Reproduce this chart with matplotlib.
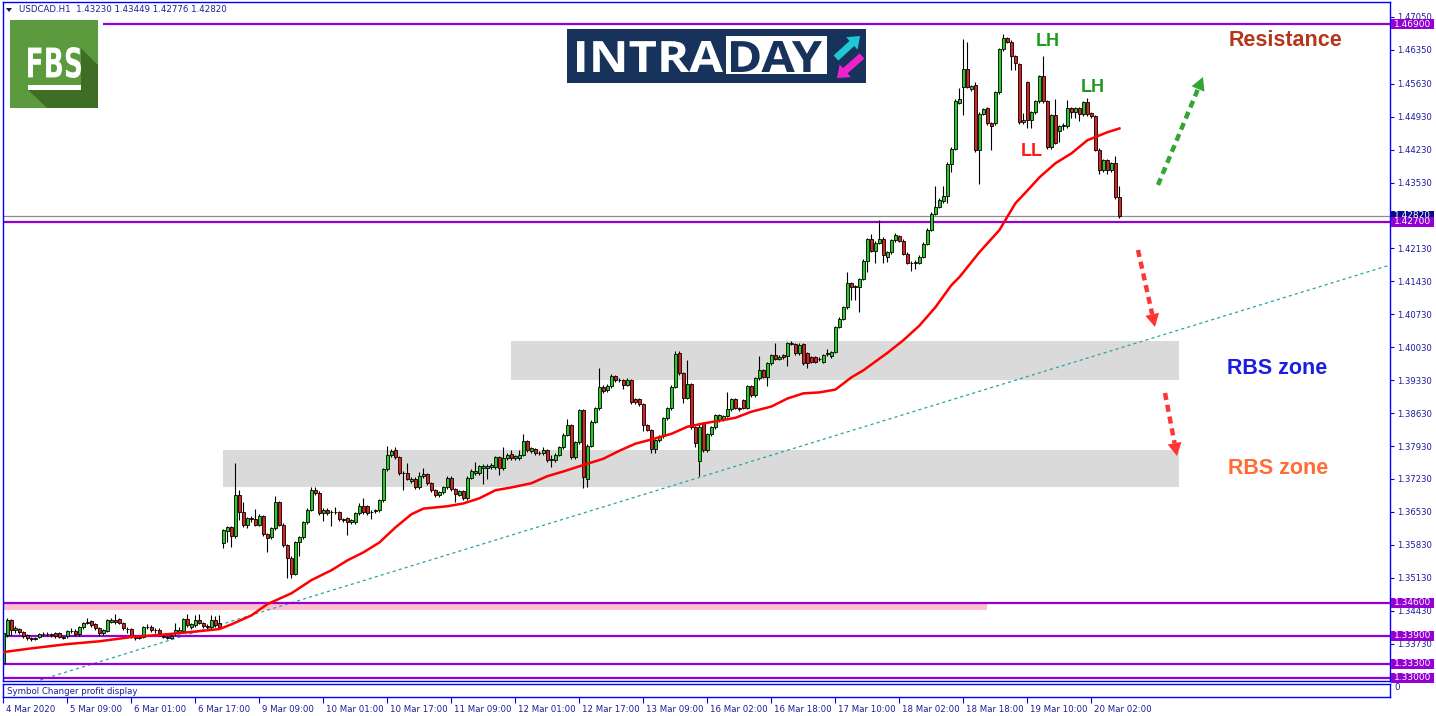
import numpy as np
import matplotlib
matplotlib.use("Agg")
import matplotlib.pyplot as plt
import matplotlib.transforms as mtransforms
from matplotlib.patches import Rectangle, Polygon, PathPatch, FancyArrow
from matplotlib.textpath import TextPath
from matplotlib.font_manager import FontProperties

# USDCAD H1 candles, prices in 1/10000 (13395 -> 1.3395)
opens = [
    13331, 13391, 13423, 13403, 13404, 13397, 13391, 13385, 13383, 13387,
    13393, 13394, 13393, 13395, 13395, 13387, 13389, 13399, 13399, 13393,
    13408, 13417, 13421, 13414, 13406, 13395, 13399, 13420, 13424, 13425,
    13417, 13405, 13405, 13388, 13386, 13387, 13408, 13409, 13402, 13403,
    13389, 13387, 13386, 13395, 13397, 13399, 13425, 13408, 13412, 13423,
    13417, 13410, 13408, 13423, 13416, 13586, 13612, 13620, 13601, 13690,
    13652, 13626, 13639, 13637, 13626, 13644, 13605, 13599, 13618, 13673,
    13626, 13582, 13556, 13522, 13588, 13599, 13631, 13658, 13699, 13694,
    13650, 13658, 13652, 13653, 13652, 13637, 13639, 13631, 13631, 13650,
    13665, 13665, 13652, 13654, 13656, 13678, 13744, 13773, 13784, 13769,
    13735, 13735, 13718, 13724, 13705, 13729, 13733, 13714, 13699, 13688,
    13695, 13705, 13726, 13701, 13690, 13697, 13682, 13726, 13735, 13735,
    13746, 13746, 13748, 13748, 13769, 13746, 13767, 13777, 13767, 13767,
    13775, 13803, 13782, 13786, 13778, 13778, 13784, 13764, 13763, 13775,
    13790, 13817, 13837, 13769, 13801, 13869, 13722, 13794, 13845, 13873,
    13919, 13912, 13920, 13942, 13934, 13933, 13923, 13933, 13892, 13892,
    13882, 13837, 13827, 13786, 13805, 13814, 13852, 13873, 13919, 13991,
    13948, 13895, 13925, 13833, 13762, 13842, 13784, 13818, 13833, 13848,
    13850, 13857, 13871, 13893, 13874, 13891, 13874, 13920, 13901, 13937,
    13954, 13940, 13969, 13986, 13978, 13986, 13984, 14010, 14010, 13990,
    14010, 13990, 13982, 13982, 13979, 13972, 13988, 13984, 13993, 14046,
    14064, 14088, 14139, 14133, 14132, 14148, 14187, 14232, 14208, 14225,
    14234, 14194, 14205, 14230, 14239, 14229, 14202, 14183, 14182, 14183,
    14195, 14223, 14253, 14287, 14302, 14313, 14325, 14393, 14425, 14523,
    14557, 14594, 14551, 14560, 14423, 14499, 14511, 14479, 14479, 14545,
    14636, 14660, 14652, 14622, 14604, 14481, 14566, 14485, 14502, 14526,
    14579, 14526, 14428, 14496, 14462, 14473, 14473, 14511, 14503, 14511,
    14498, 14524, 14500, 14494, 14423, 14379, 14401, 14379, 14394, 14323,
]
closes = [
    13395, 13423, 13401, 13406, 13397, 13389, 13384, 13383, 13385, 13393,
    13394, 13393, 13391, 13389, 13387, 13386, 13399, 13400, 13393, 13408,
    13417, 13420, 13412, 13406, 13395, 13401, 13423, 13424, 13418, 13417,
    13406, 13404, 13389, 13386, 13387, 13408, 13409, 13401, 13403, 13395,
    13387, 13386, 13389, 13401, 13403, 13425, 13412, 13414, 13423, 13417,
    13410, 13409, 13423, 13412, 13409, 13614, 13620, 13601, 13690, 13652,
    13626, 13639, 13637, 13626, 13644, 13605, 13598, 13618, 13673, 13626,
    13582, 13556, 13522, 13588, 13599, 13631, 13658, 13699, 13694, 13650,
    13658, 13650, 13653, 13652, 13637, 13636, 13631, 13635, 13650, 13665,
    13652, 13650, 13653, 13656, 13678, 13744, 13773, 13782, 13769, 13735,
    13735, 13724, 13724, 13705, 13729, 13733, 13714, 13699, 13688, 13695,
    13705, 13726, 13701, 13692, 13697, 13682, 13726, 13741, 13741, 13750,
    13750, 13750, 13752, 13769, 13746, 13767, 13775, 13767, 13771, 13775,
    13803, 13784, 13789, 13778, 13779, 13784, 13763, 13765, 13775, 13790,
    13817, 13837, 13769, 13801, 13869, 13727, 13794, 13845, 13873, 13919,
    13910, 13920, 13942, 13933, 13933, 13923, 13933, 13886, 13886, 13882,
    13837, 13827, 13786, 13805, 13814, 13852, 13873, 13919, 13989, 13948,
    13895, 13925, 13833, 13799, 13833, 13784, 13818, 13833, 13859, 13859,
    13857, 13871, 13893, 13874, 13871, 13874, 13920, 13901, 13937, 13954,
    13940, 13969, 13986, 13978, 13982, 13982, 14012, 14012, 13990, 14008,
    13969, 13969, 13972, 13972, 13978, 13986, 13990, 13993, 14046, 14064,
    14088, 14139, 14130, 14132, 14148, 14187, 14232, 14208, 14225, 14234,
    14199, 14205, 14231, 14242, 14229, 14202, 14183, 14182, 14184, 14195,
    14223, 14253, 14287, 14302, 14317, 14325, 14393, 14425, 14527, 14530,
    14594, 14557, 14558, 14423, 14499, 14509, 14479, 14473, 14545, 14636,
    14660, 14652, 14622, 14607, 14481, 14487, 14485, 14502, 14526, 14579,
    14526, 14428, 14496, 14438, 14473, 14475, 14511, 14503, 14511, 14498,
    14524, 14498, 14494, 14423, 14379, 14401, 14379, 14394, 14322, 14282,
]
highs = [
    13398, 13428, 13425, 13410, 13407, 13399, 13393, 13388, 13388, 13396,
    13398, 13398, 13396, 13398, 13398, 13390, 13402, 13406, 13405, 13411,
    13420, 13427, 13424, 13416, 13408, 13404, 13426, 13428, 13435, 13428,
    13420, 13408, 13407, 13391, 13390, 13411, 13414, 13412, 13406, 13406,
    13392, 13390, 13393, 13416, 13408, 13428, 13435, 13417, 13433, 13435,
    13420, 13414, 13433, 13432, 13433, 13617, 13624, 13624, 13756, 13699,
    13673, 13642, 13644, 13660, 13648, 13647, 13608, 13621, 13686, 13676,
    13629, 13585, 13559, 13591, 13602, 13634, 13661, 13705, 13705, 13697,
    13661, 13661, 13657, 13664, 13655, 13640, 13642, 13638, 13653, 13671,
    13683, 13668, 13658, 13660, 13681, 13747, 13793, 13786, 13790, 13772,
    13739, 13756, 13727, 13727, 13738, 13746, 13736, 13717, 13702, 13698,
    13708, 13729, 13729, 13704, 13700, 13700, 13729, 13744, 13759, 13753,
    13754, 13754, 13756, 13772, 13772, 13792, 13778, 13784, 13775, 13784,
    13818, 13806, 13792, 13789, 13783, 13792, 13787, 13775, 13778, 13793,
    13820, 13850, 13840, 13804, 13872, 13872, 13797, 13848, 13876, 13959,
    13922, 13924, 13946, 13945, 13937, 13936, 13937, 13936, 13895, 13895,
    13885, 13840, 13830, 13808, 13817, 13855, 13876, 13922, 13994, 13994,
    13951, 13976, 13928, 13836, 13842, 13845, 13821, 13836, 13862, 13862,
    13860, 13907, 13896, 13896, 13877, 13894, 13923, 13923, 13940, 13984,
    13957, 13972, 13989, 14013, 13986, 13989, 14015, 14016, 14013, 14013,
    14013, 13993, 13985, 13985, 13982, 13989, 14000, 13996, 14049, 14067,
    14091, 14162, 14142, 14136, 14151, 14190, 14235, 14243, 14228, 14274,
    14237, 14208, 14234, 14245, 14242, 14232, 14205, 14186, 14188, 14198,
    14226, 14256, 14290, 14345, 14320, 14345, 14396, 14428, 14530, 14555,
    14658, 14652, 14561, 14566, 14502, 14512, 14514, 14482, 14548, 14639,
    14668, 14663, 14655, 14625, 14607, 14500, 14569, 14505, 14529, 14582,
    14622, 14529, 14499, 14530, 14476, 14480, 14528, 14514, 14514, 14514,
    14527, 14532, 14503, 14497, 14426, 14404, 14404, 14397, 14410, 14345,
]
lows = [
    13325, 13388, 13392, 13396, 13394, 13386, 13381, 13379, 13380, 13384,
    13390, 13389, 13387, 13386, 13384, 13382, 13386, 13396, 13390, 13390,
    13405, 13414, 13409, 13403, 13390, 13392, 13397, 13417, 13415, 13414,
    13403, 13396, 13386, 13381, 13383, 13384, 13405, 13398, 13396, 13392,
    13384, 13383, 13383, 13392, 13394, 13396, 13409, 13405, 13409, 13414,
    13407, 13405, 13405, 13409, 13406, 13577, 13588, 13579, 13598, 13635,
    13620, 13618, 13631, 13622, 13622, 13601, 13567, 13595, 13615, 13622,
    13578, 13513, 13513, 13519, 13560, 13596, 13628, 13655, 13690, 13646,
    13634, 13646, 13622, 13648, 13633, 13632, 13603, 13628, 13628, 13647,
    13649, 13646, 13637, 13651, 13653, 13675, 13741, 13770, 13766, 13731,
    13699, 13721, 13715, 13702, 13702, 13726, 13711, 13696, 13685, 13685,
    13692, 13702, 13698, 13675, 13687, 13679, 13679, 13723, 13732, 13732,
    13712, 13722, 13745, 13745, 13731, 13743, 13764, 13764, 13764, 13764,
    13772, 13781, 13779, 13775, 13775, 13775, 13760, 13748, 13760, 13772,
    13787, 13814, 13765, 13765, 13798, 13703, 13707, 13791, 13842, 13870,
    13906, 13908, 13917, 13930, 13929, 13915, 13920, 13882, 13883, 13879,
    13826, 13824, 13778, 13778, 13802, 13811, 13849, 13870, 13916, 13945,
    13885, 13892, 13830, 13792, 13729, 13781, 13781, 13815, 13830, 13845,
    13847, 13854, 13868, 13871, 13868, 13871, 13871, 13898, 13898, 13934,
    13937, 13920, 13966, 13975, 13975, 13979, 13963, 14007, 13987, 13987,
    13966, 13958, 13969, 13969, 13974, 13969, 13985, 13981, 13990, 14043,
    14061, 14085, 14104, 14104, 14078, 14145, 14162, 14205, 14183, 14222,
    14183, 14185, 14202, 14227, 14226, 14199, 14180, 14165, 14170, 14180,
    14192, 14220, 14250, 14284, 14299, 14310, 14310, 14376, 14422, 14520,
    14497, 14554, 14548, 14418, 14349, 14496, 14476, 14422, 14476, 14542,
    14633, 14649, 14593, 14593, 14478, 14478, 14470, 14470, 14499, 14523,
    14523, 14425, 14425, 14435, 14440, 14465, 14470, 14490, 14490, 14483,
    14495, 14495, 14491, 14420, 14372, 14376, 14372, 14376, 14319, 14278,
]

# red moving average, read at some bars
ma_idx = [0, 7, 16, 24, 32, 41, 46, 54, 57, 62, 66, 72, 77, 82, 86, 90, 94, 98, 102, 105,
          111, 115, 119, 123, 127, 132, 136, 140, 144, 150, 154, 158, 162, 167, 171, 175,
          179, 183, 187, 192, 196, 200, 204, 208, 212, 215, 221, 225, 229, 233, 237, 239,
          244, 249, 253, 256, 259, 263, 267, 271, 276, 279]
ma_val = [13355, 13363, 13372, 13378, 13387, 13393, 13397, 13404, 13414, 13433, 13457,
          13480, 13508, 13529, 13550, 13567, 13588, 13620, 13648, 13660, 13665, 13671,
          13682, 13699, 13705, 13714, 13729, 13739, 13750, 13766, 13783, 13798, 13807,
          13819, 13834, 13841, 13847, 13853, 13866, 13877, 13894, 13905, 13907, 13913,
          13939, 13954, 13991, 14018, 14049, 14088, 14135, 14152, 14205, 14252, 14309,
          14336, 14364, 14394, 14415, 14443, 14460, 14468]

# horizontal levels
levels = [1.469, 1.427, 1.346, 1.339, 1.333, 1.330]
bid = 1.42820
pink_band = (1.3444, 1.3460)

# RBS zones: bar from, bar to, low, high
zone_from = [126.9, 54.9]
zone_to = [293.9, 293.9]
zone_lo = [1.3933, 1.3706]
zone_hi = [1.4016, 1.3785]

# trend line anchors (bar, price)
trend_x = [9.2, 346.7]
trend_y = [1.32957, 1.41778]

# 1.42830 sits under the bid box, so it is not listed
ytick_vals = [1.47050, 1.46350, 1.45630, 1.44930, 1.44230, 1.43530, 1.42130,
              1.41430, 1.40730, 1.40030, 1.39330, 1.38630, 1.37930, 1.37230, 1.36530,
              1.35830, 1.35130, 1.34430, 1.33730]
xtick_bars = list(range(0, 273, 16))
xtick_labels = ["4 Mar 2020", "5 Mar 09:00", "6 Mar 01:00", "6 Mar 17:00", "9 Mar 09:00",
                "10 Mar 01:00", "10 Mar 17:00", "11 Mar 09:00", "12 Mar 01:00",
                "12 Mar 17:00", "13 Mar 09:00", "16 Mar 02:00", "16 Mar 18:00",
                "17 Mar 10:00", "18 Mar 02:00", "18 Mar 18:00", "19 Mar 10:00",
                "20 Mar 02:00"]

o = np.array(opens) / 1e4
c = np.array(closes) / 1e4
h = np.maximum(np.array(highs) / 1e4, np.maximum(o, c))
l = np.minimum(np.array(lows) / 1e4, np.minimum(o, c))
idx = np.arange(len(o))

W, H = 1436, 716
BLUE = '#0000ff'
LBL = '#1c1c9a'
PURPLE = '#9400d3'

fig = plt.figure(figsize=(W / 100, H / 100), dpi=100)
fig.patch.set_facecolor('white')

ax = fig.add_axes([3 / W, (H - 681) / H, 1387 / W, 679 / H])
ax.set_xlim(-0.1, 346.65)
ax.set_ylim(1.32936, 1.47368)
for s in ax.spines.values():
    s.set_color(BLUE)
    s.set_linewidth(1)

# zones and band
for x0, x1, lo, hi in zip(zone_from, zone_to, zone_lo, zone_hi):
    ax.add_patch(Rectangle((x0, lo), x1 - x0, hi - lo, fc='#dadada', ec='none', zorder=0.5))
ax.add_patch(Rectangle((-0.1, pink_band[0]), 246, pink_band[1] - pink_band[0],
                       fc='#ffc0cb', ec='none', zorder=0.6))

ax.plot(trend_x, trend_y, color='#2aa5a5', lw=0.9, ls=(0, (2.5, 2.5)), zorder=1)

# levels
ax.hlines(bid, -0.1, 346.65, color='#8c8c8c', lw=0.9, zorder=1.8)
for lv in levels:
    x0 = 25 if lv == 1.469 else -0.1
    ax.hlines(lv, x0, 346.65, color=PURPLE, lw=1.6, zorder=1.9)

# candles
ax.vlines(idx, l, h, color='black', lw=0.8, zorder=2.4)
cols = np.where(c >= o, '#22cc22', '#dd2020')
bot = np.minimum(o, c)
hgt = np.maximum(np.abs(c - o), 0.00004)
ax.bar(idx, hgt, bottom=bot, width=0.7, color=cols, edgecolor='black', linewidth=0.6, zorder=2.5)

ax.plot(ma_idx, np.array(ma_val) / 1e4, color='#ff0000', lw=1.8, zorder=3)

# right price axis
ax.yaxis.tick_right()
ax.set_yticks(ytick_vals)
ax.set_yticklabels([f'{v:.5f}' for v in ytick_vals])
ax.tick_params(axis='y', direction='out', length=3, width=0.8, colors=BLUE,
               labelcolor=LBL, labelsize=6.1, pad=2)
ax.set_xticks([])

trans = mtransforms.blended_transform_factory(ax.transAxes, ax.transData)
hh = 5 * 2.1254e-4
ax.add_patch(Rectangle((1 + 1 / 1387, bid - hh), 43 / 1387, 2 * hh, transform=trans,
                       fc='#0a0a8c', ec='none', clip_on=False, zorder=5))
ax.text(1 + 4 / 1387, bid, f'{bid:.5f}', transform=trans, color='white', fontsize=6.5,
        va='center', ha='left', clip_on=False, zorder=5.5)
for lv in levels:
    ax.add_patch(Rectangle((1 + 1 / 1387, lv - hh), 43 / 1387, 2 * hh, transform=trans,
                           fc=PURPLE, ec='none', clip_on=False, zorder=6))
    ax.text(1 + 4 / 1387, lv, f'{lv:.5f}', transform=trans, color='white', fontsize=6.5,
            va='center', ha='left', clip_on=False, zorder=6.5)

# sub window with time axis
sub = fig.add_axes([3 / W, (H - 697) / H, 1387 / W, 13 / H])
sub.set_xlim(-0.1, 346.65)
sub.set_ylim(0, 1)
for s in sub.spines.values():
    s.set_color(BLUE)
    s.set_linewidth(1)
sub.set_yticks([])
sub.set_xticks(xtick_bars)
sub.set_xticklabels(xtick_labels)
sub.tick_params(axis='x', direction='out', length=4, width=0.8, colors=BLUE,
                labelcolor=LBL, labelsize=6.2, pad=1.5)
off = mtransforms.ScaledTranslation(3 / 100, 0, fig.dpi_scale_trans)
for lbl in sub.get_xticklabels():
    lbl.set_ha('left')
    lbl.set_transform(lbl.get_transform() + off)

# overlay in pixel coordinates
ov = fig.add_axes([0, 0, 1, 1], zorder=10)
ov.set_xlim(0, W)
ov.set_ylim(H, 0)
ov.axis('off')


def fit_text(a, s, x0, y0, x1, y1, color, family='DejaVu Sans'):
    tp = TextPath((0, 0), s, size=10, prop=FontProperties(family=family, weight='bold'))
    bb = tp.get_extents()
    tr = (mtransforms.Affine2D().translate(-bb.x0, -bb.y0)
          .scale((x1 - x0) / bb.width, -(y1 - y0) / bb.height).translate(x0, y1))
    a.add_patch(PathPatch(tr.transform_path(tp), fc=color, ec='none', lw=0))


def dashed_arrow(a, x0, y0, x1, y1, color):
    dx, dy = x1 - x0, y1 - y0
    L = np.hypot(dx, dy)
    ux, uy = dx / L, dy / L
    hl, hw = 13, 7
    bx, by = x1 - ux * hl, y1 - uy * hl
    a.plot([x0, bx], [y0, by], color=color, lw=3.2, ls=(0, (1.6, 1.1)), solid_capstyle='butt')
    px, py = -uy, ux
    a.add_patch(Polygon([(x1, y1), (bx + px * hw, by + py * hw), (bx - px * hw, by - py * hw)],
                        closed=True, fc=color, ec='none'))


# header
ov.add_patch(Polygon([(6, 8), (12, 8), (9, 12)], closed=True, fc='#14146e', ec='none'))
ov.text(19, 10, 'USDCAD.H1  1.43230 1.43449 1.42776 1.42820', fontsize=6.2, color=LBL,
        va='center', ha='left')

# FBS logo
ov.add_patch(Rectangle((10, 20), 88, 88, fc='#5c9b3d', ec='none'))
ov.add_patch(Polygon([(81, 48), (98, 65), (98, 108), (47, 108), (28, 90), (81, 90)],
                     closed=True, fc='#3e6d25', ec='none'))
fit_text(ov, 'FBS', 28, 47, 81, 78, 'white')
ov.add_patch(Rectangle((28, 85), 53, 5, fc='white', ec='none'))

# INTRADAY banner
ov.add_patch(Rectangle((567, 29), 299, 54, fc='#17325b', ec='none'))
fit_text(ov, 'INTRA', 577, 41, 723, 72, 'white', family='Open Sans')
ov.add_patch(Rectangle((726, 36), 101, 38, fc='white', ec='none'))
fit_text(ov, 'DAY', 731, 41, 822, 72, '#17325b', family='Open Sans')
ov.add_patch(FancyArrow(836, 58, 24, -22, width=7, head_width=17, head_length=11,
                        length_includes_head=True, fc='#1fc8d4', ec='none'))
ov.add_patch(FancyArrow(862, 56, -25, 22, width=7, head_width=17, head_length=11,
                        length_includes_head=True, fc='#ee22cc', ec='none'))

# annotations
bold = dict(family=['Liberation Sans', 'DejaVu Sans'], weight='bold', ha='center', va='center')
ov.text(1286, 41, 'Resistance', fontsize=15.5, color='#b5371b', **bold)
ov.text(1277, 368, 'RBS zone', fontsize=15.5, color='#1d1de0', **bold)
ov.text(1278, 469, 'RBS zone', fontsize=15.5, color='#ff6c35', **bold)
ov.text(1048, 41, 'LH', fontsize=13, color='#1f9a1f', **bold)
ov.text(1093, 87, 'LH', fontsize=13, color='#1f9a1f', **bold)
ov.text(1032, 152, 'LL', fontsize=13, color='#ff1a1a', **bold)

dashed_arrow(ov, 1158, 185, 1203, 77, '#33a533')
dashed_arrow(ov, 1138, 250, 1155, 327, '#ff3434')
dashed_arrow(ov, 1165, 393, 1177, 456, '#ff3434')

# sub window texts
ov.text(7, 691, 'Symbol Changer profit display', fontsize=6.2, color=LBL, va='center', ha='left')
ov.text(1394, 688, '0', fontsize=6.2, color=LBL, va='center', ha='left')

fig.savefig('out.png', dpi=100, facecolor='white')
